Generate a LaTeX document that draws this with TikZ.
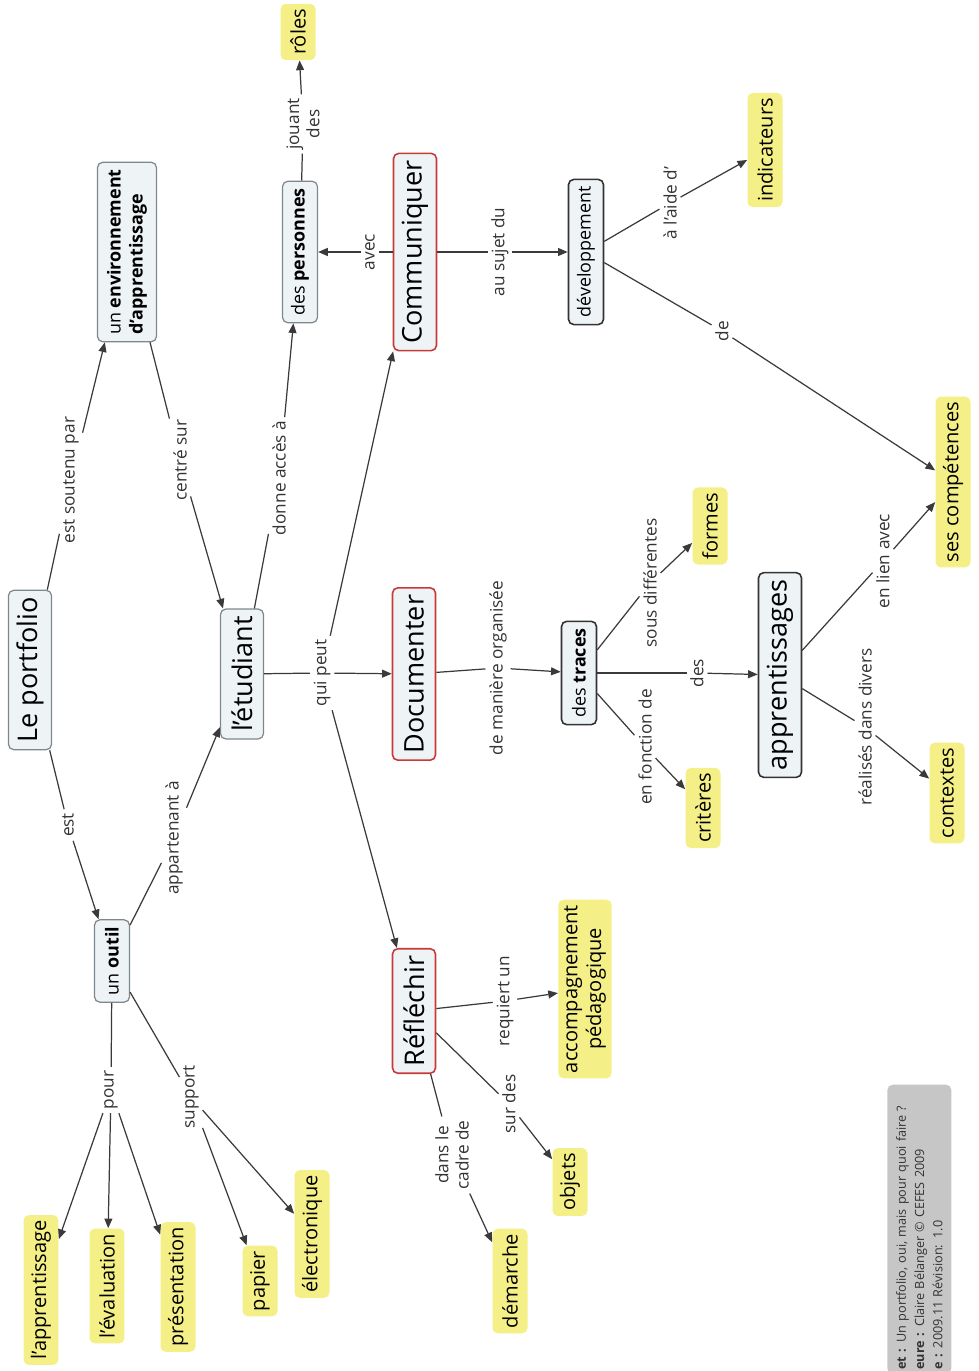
\documentclass[tikz,border=0pt]{standalone}
\usepackage{fontspec}
\setmainfont{Open Sans}
\usepackage{xcolor}
\usepackage{tikz}
\usetikzlibrary{arrows.meta}

\definecolor{cfill}{HTML}{EEF3F6}
\definecolor{cedge}{HTML}{7E878C}
\definecolor{cred}{HTML}{C83A3A}
\definecolor{cdark}{HTML}{333333}
\definecolor{cyellow}{HTML}{F4EF86}
\definecolor{cline}{HTML}{3A3A3A}
\definecolor{cnote}{HTML}{C6C6C6}

\begin{document}
\begin{tikzpicture}[
    x=0.02cm, y=-0.02cm,
    concept/.style={rectangle, rounded corners=3pt, draw=cedge, fill=cfill, line width=0.7pt,
        rotate=90, align=center, minimum height=0.7cm, inner xsep=4pt,
        font=\fontsize{10.2}{12.5}\selectfont},
    bigconcept/.style={concept, minimum height=0.86cm, font=\fontsize{15.4}{18}\selectfont},
    action/.style={bigconcept, draw=cred, line width=0.9pt},
    hub/.style={concept, draw=cdark, line width=0.9pt},
    leaf/.style={rectangle, rounded corners=3pt, fill=cyellow, rotate=90, align=center,
        minimum height=0.7cm, inner xsep=3pt, font=\fontsize{11.4}{13.5}\selectfont},
    link/.style={rotate=90, align=center, inner sep=2pt, text=cdark,
        font=\fontsize{9.8}{11.5}\selectfont},
    connector/.style={draw=cline, line width=0.7pt},
    arrow/.style={connector, -{Triangle[length=5.5pt, width=4.5pt]}},
    note/.style={rectangle, rounded corners=3pt, fill=cnote, rotate=90, align=left,
        anchor=north west, text width=5.62cm, inner xsep=0.08cm, minimum height=1.28cm,
        font=\fontsize{7.2}{10.4}\selectfont, text=cdark}
]
    \useasboundingbox (0,0) rectangle (979,1371);

    % concepts
    \node[bigconcept] (portfolio) at (30,670) {Le portfolio};
    \node[bigconcept] (etudiant) at (242,674) {l'étudiant};
    \node[concept] (outil) at (112,961) {un \textbf{outil}};
    \node[concept, align=left, minimum height=1.18cm] (env) at (127,252)
        {un \textbf{environnement}\\\textbf{d'apprentissage}};
    \node[concept] (personnes) at (300,252) {des \textbf{personnes}};
    \node[action] (communiquer) at (415,252) {Communiquer};
    \node[action] (documenter) at (414,674) {Documenter};
    \node[action] (reflechir) at (414,1011) {Réfléchir};
    \node[hub] (developpement) at (586,252) {développement};
    \node[hub] (traces) at (579,673) {des \textbf{traces}};
    \node[bigconcept, draw=cdark, line width=0.9pt] (apprentissages) at (780,675) {apprentissages};

    % leaves
    \node[leaf] (roles) at (298,32) {rôles};
    \node[leaf] (indicateurs) at (765,150) {indicateurs};
    \node[leaf] (competences) at (953,482) {ses compétences};
    \node[leaf] (formes) at (710,526) {formes};
    \node[leaf] (criteres) at (703,808) {critères};
    \node[leaf] (contextes) at (947,793) {contextes};
    \node[leaf] (accompagnement) at (585,989) {accompagnement\\pédagogique};
    \node[leaf] (objets) at (570,1182) {objets};
    \node[leaf] (demarche) at (510,1281) {démarche};
    \node[leaf] (apprentissage) at (41,1290) {l'apprentissage};
    \node[leaf] (evaluation) at (107,1286) {l'évaluation};
    \node[leaf] (presentation) at (178,1287) {présentation};
    \node[leaf] (papier) at (260,1281) {papier};
    \node[leaf] (electronique) at (312,1234) {électronique};

    % link phrases
    \node[link] (soutenu) at (71,480) {est soutenu par};
    \node[link] (centre) at (180,460) {centré sur};
    \node[link] (est) at (68,825) {est};
    \node[link] (appartenant) at (174,838) {appartenant à};
    \node[link] (acces) at (279,478) {donne accès à};
    \node[link] (quipeut) at (322,673) {qui peut};
    \node[link] (avec) at (370,252) {avec};
    \node[link] (jouant) at (303,124) {jouant\\des};
    \node[link] (sujet) at (500,252) {au sujet du};
    \node[link] (aide) at (670,203) {à l'aide d'};
    \node[link] (de) at (722,331) {de};
    \node[link] (maniere) at (498,668) {de manière organisée};
    \node[link] (sous) at (650,583) {sous différentes};
    \node[link] (fonction) at (645,747) {en fonction de};
    \node[link] (des) at (697,673) {des};
    \node[link] (lien) at (883,561) {en lien avec};
    \node[link] (realises) at (865,727) {réalisés dans divers};
    \node[link] (pour) at (111,1090) {pour};
    \node[link] (support) at (191,1097) {support};
    \node[link] (requiert) at (505,1001) {requiert un};
    \node[link] (surdes) at (509,1104) {sur des};
    \node[link] (cadre) at (452,1155) {dans le\\cadre de};

    % connections
    \draw[connector] (portfolio) -- (soutenu);
    \draw[arrow] (soutenu) -- (env);
    \draw[connector] (env) -- (centre);
    \draw[arrow] (centre) -- (etudiant);
    \draw[connector] (portfolio) -- (est);
    \draw[arrow] (est) -- (outil);
    \draw[connector] (outil) -- (appartenant);
    \draw[arrow] (appartenant) -- (etudiant);
    \draw[connector] (etudiant) -- (acces);
    \draw[arrow] (acces) -- (personnes);
    \draw[connector] (personnes) -- (jouant);
    \draw[arrow] (jouant) -- (roles);
    \draw[connector] (etudiant) -- (quipeut);
    \draw[arrow] (quipeut) -- (communiquer);
    \draw[arrow] (quipeut) -- (documenter);
    \draw[arrow] (quipeut) -- (reflechir);
    \draw[connector] (communiquer) -- (avec);
    \draw[arrow] (avec) -- (personnes);
    \draw[connector] (communiquer) -- (sujet);
    \draw[arrow] (sujet) -- (developpement);
    \draw[connector] (developpement) -- (aide);
    \draw[arrow] (aide) -- (indicateurs);
    \draw[connector] (developpement) -- (de);
    \draw[arrow] (de) -- (competences);
    \draw[connector] (documenter) -- (maniere);
    \draw[arrow] (maniere) -- (traces);
    \draw[connector] (traces) -- (sous);
    \draw[arrow] (sous) -- (formes);
    \draw[connector] (traces) -- (fonction);
    \draw[arrow] (fonction) -- (criteres);
    \draw[connector] (traces) -- (des);
    \draw[arrow] (des) -- (apprentissages);
    \draw[connector] (apprentissages) -- (lien);
    \draw[arrow] (lien) -- (competences);
    \draw[connector] (apprentissages) -- (realises);
    \draw[arrow] (realises) -- (contextes);
    \draw[connector] (outil) -- (pour);
    \draw[arrow] (pour) -- (apprentissage);
    \draw[arrow] (pour) -- (evaluation);
    \draw[arrow] (pour) -- (presentation);
    \draw[connector] (outil) -- (support);
    \draw[arrow] (support) -- (papier);
    \draw[arrow] (support) -- (electronique);
    \draw[connector] (reflechir) -- (requiert);
    \draw[arrow] (requiert) -- (accompagnement);
    \draw[connector] (reflechir) -- (surdes);
    \draw[arrow] (surdes) -- (objets);
    \draw[connector] (reflechir) -- (cadre);
    \draw[arrow] (cadre) -- (demarche);

    % info box, cut by the page edge
    \begin{scope}
        \clip (0,0) rectangle (979,1371);
        \node[note] (info) at (887,1374)
            {\textbf{et :} Un portfolio, oui, mais pour quoi faire ?\\
             \textbf{eure :} Claire Bélanger © CEFES 2009\\
             \textbf{e :} 2009.11 Révision: 1.0};
    \end{scope}
\end{tikzpicture}
\end{document}
